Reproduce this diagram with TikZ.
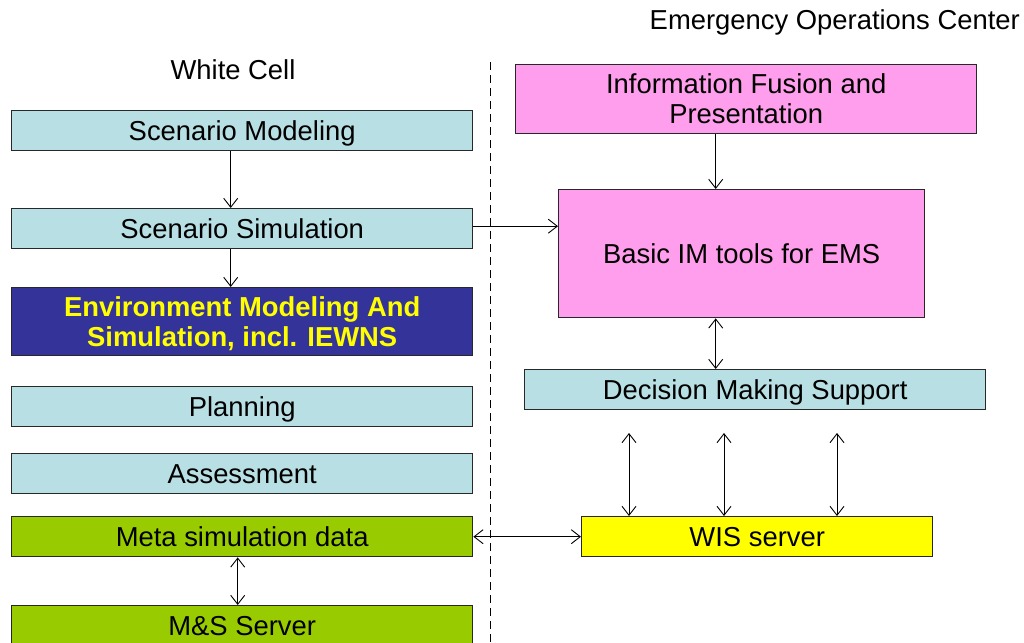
\documentclass[tikz,border=0pt]{standalone}
\usepackage{fontspec}
\setmainfont{Liberation Sans}
\usetikzlibrary{arrows.meta}
\definecolor{cyanbox}{RGB}{184,224,228}
\definecolor{pinkbox}{RGB}{255,158,236}
\definecolor{navybox}{RGB}{51,51,153}
\definecolor{greenbox}{RGB}{153,204,0}
\definecolor{yellowbox}{RGB}{255,255,0}
\definecolor{edgegray}{RGB}{40,40,40}
\begin{document}
\begin{tikzpicture}[x=1pt,y=-1pt,
  box/.style={draw=edgegray, line width=1.4pt, anchor=north west, inner sep=0pt, align=center,
    font=\fontsize{27.4}{30}\selectfont, text=black},
  low/.style={text depth=0pt},
  wide/.style={minimum width=461pt, minimum height=40pt},
  conn/.style={line width=0.9pt, -{Straight Barb[length=9pt,width=14pt]}},
  dconn/.style={line width=0.9pt, {Straight Barb[length=9pt,width=14pt]}-{Straight Barb[length=9pt,width=14pt]}},
  lbl/.style={font=\fontsize{27.4}{30}\selectfont, inner sep=0pt}]
\useasboundingbox (0,0) rectangle (1024,642);
% titles
\node[lbl] (wc) at (233,70) {White Cell};
\node[lbl, anchor=east] (eoc) at (1020,22) {Emergency Operations Center};
% separator
\draw[line width=1pt, dash pattern=on 8pt off 5pt] (490,62) -- (490,642);
% left column
\node[box, wide, low, fill=cyanbox] (sm) at (11,110) {Scenario Modeling};
\node[box, wide, low, fill=cyanbox] (ss) at (11,208) {Scenario Simulation};
\node[box, wide, low, minimum height=68pt, fill=navybox, text=yellowbox, font=\fontsize{27.4}{30}\selectfont\bfseries] (env) at (11,287) {Environment Modeling And\\Simulation, incl. IEWNS};
\node[box, wide, low, fill=cyanbox] (pl) at (11,386) {Planning};
\node[box, wide, low, fill=cyanbox] (as) at (11,453) {Assessment};
\node[box, wide, low, fill=greenbox] (meta) at (11,516) {Meta simulation data};
\node[box, wide, low, fill=greenbox] (ms) at (11,605) {M\&S Server};
% right column
\node[box, minimum width=461pt, minimum height=69pt, fill=pinkbox] (ifp) at (515,64) {Information Fusion and\\Presentation};
\node[box, minimum width=366pt, minimum height=128pt, fill=pinkbox] (bim) at (558,189) {Basic IM tools for EMS};
\node[box, low, minimum width=461pt, minimum height=40pt, fill=cyanbox] (dms) at (524,369) {Decision Making Support};
\node[box, low, minimum width=351pt, minimum height=40pt, fill=yellowbox] (wis) at (581,516) {WIS server};
% connectors
\draw[conn] ([xshift=-11.5pt]sm.south) -- ([xshift=-11.5pt]ss.north);
\draw[conn] ([xshift=-11.5pt]ss.south) -- ([xshift=-11.5pt]env.north);
\draw[conn] ([yshift=2.5pt]ss.east) -- ([yshift=2.5pt]ss.east -| bim.west);
\draw[conn] ([xshift=-30.5pt]ifp.south) -- ([xshift=-30.5pt]ifp.south |- bim.north);
\draw[dconn] ([xshift=-26pt]bim.south) -- ([xshift=-26pt]bim.south |- dms.north);
\coordinate (t1) at (629,433);
\coordinate (t2) at (724,433);
\coordinate (t3) at (837,433);
\draw[dconn] (t1) -- (t1 |- wis.north);
\draw[dconn] (t2) -- (t2 |- wis.north);
\draw[dconn] (t3) -- (t3 |- wis.north);
\draw[dconn] (meta.east) -- (wis.west);
\draw[dconn] ([xshift=-4.5pt]meta.south) -- ([xshift=-4.5pt]ms.north);
\end{tikzpicture}
\end{document}
